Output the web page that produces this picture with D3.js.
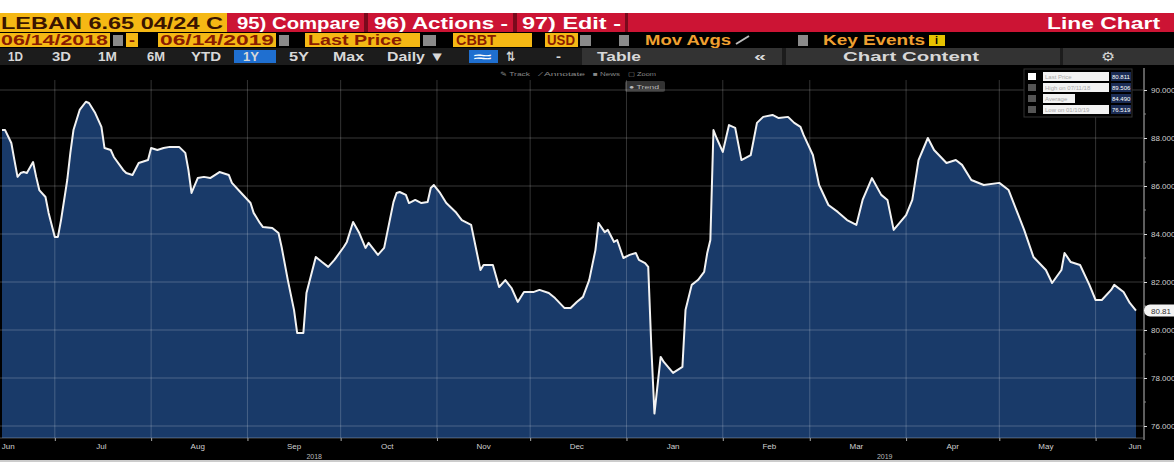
<!DOCTYPE html>
<html><head><meta charset="utf-8">
<script src="https://cdn.jsdelivr.net/npm/d3@7"></script>
<style>html,body{margin:0;padding:0;background:#000;overflow:hidden}text{font-family:"Liberation Sans","DejaVu Sans",sans-serif}</style>
</head><body><svg id="c" width="1174" height="462"></svg>
<script>
const dates = ["2018-06-14","2018-06-15","2018-06-17","2018-06-18","2018-06-19","2018-06-20","2018-06-21","2018-06-22","2018-06-24","2018-06-25","2018-06-26","2018-06-28","2018-06-29","2018-07-01","2018-07-02","2018-07-03","2018-07-05","2018-07-06","2018-07-07","2018-07-09","2018-07-11","2018-07-12","2018-07-14","2018-07-16","2018-07-17","2018-07-19","2018-07-20","2018-07-23","2018-07-24","2018-07-26","2018-07-28","2018-07-31","2018-08-01","2018-08-03","2018-08-05","2018-08-07","2018-08-10","2018-08-12","2018-08-13","2018-08-14","2018-08-16","2018-08-18","2018-08-20","2018-08-23","2018-08-26","2018-08-27","2018-08-30","2018-09-02","2018-09-03","2018-09-05","2018-09-06","2018-09-09","2018-09-11","2018-09-12","2018-09-14","2018-09-16","2018-09-17","2018-09-19","2018-09-20","2018-09-23","2018-09-25","2018-09-27","2018-09-29","2018-10-02","2018-10-03","2018-10-05","2018-10-07","2018-10-09","2018-10-10","2018-10-13","2018-10-15","2018-10-18","2018-10-19","2018-10-20","2018-10-22","2018-10-23","2018-10-25","2018-10-27","2018-10-29","2018-10-30","2018-10-31","2018-11-02","2018-11-04","2018-11-07","2018-11-09","2018-11-12","2018-11-15","2018-11-16","2018-11-19","2018-11-21","2018-11-23","2018-11-25","2018-11-27","2018-11-29","2018-12-02","2018-12-04","2018-12-07","2018-12-09","2018-12-12","2018-12-14","2018-12-16","2018-12-18","2018-12-20","2018-12-22","2018-12-23","2018-12-25","2018-12-26","2018-12-28","2018-12-29","2018-12-31","2019-01-02","2019-01-04","2019-01-05","2019-01-07","2019-01-08","2019-01-09","2019-01-10","2019-01-12","2019-01-13","2019-01-16","2019-01-19","2019-01-20","2019-01-22","2019-01-24","2019-01-26","2019-01-27","2019-01-28","2019-01-29","2019-01-30","2019-02-01","2019-02-03","2019-02-05","2019-02-07","2019-02-10","2019-02-12","2019-02-14","2019-02-17","2019-02-19","2019-02-22","2019-02-24","2019-02-26","2019-02-27","2019-03-02","2019-03-04","2019-03-07","2019-03-10","2019-03-13","2019-03-16","2019-03-18","2019-03-21","2019-03-24","2019-03-26","2019-03-28","2019-04-01","2019-04-03","2019-04-05","2019-04-08","2019-04-10","2019-04-14","2019-04-17","2019-04-19","2019-04-22","2019-04-26","2019-05-01","2019-05-04","2019-05-09","2019-05-12","2019-05-16","2019-05-18","2019-05-21","2019-05-22","2019-05-24","2019-05-27","2019-05-30","2019-06-01","2019-06-03","2019-06-06","2019-06-07","2019-06-10","2019-06-12","2019-06-14"];
const prices = [88.33,88.33,87.79,87.08,86.38,86.54,86.58,86.54,87.00,86.38,85.83,85.54,84.88,83.88,83.88,84.58,86.25,87.38,88.33,89.17,89.51,89.46,89.04,88.46,87.58,87.50,87.21,86.67,86.54,86.46,86.96,87.08,87.58,87.50,87.58,87.63,87.63,87.38,86.67,85.71,86.33,86.38,86.33,86.58,86.46,86.13,85.71,85.29,84.88,84.46,84.29,84.25,84.04,83.46,82.08,80.83,79.88,79.88,81.54,83.04,82.83,82.63,82.92,83.46,83.67,84.50,84.04,83.42,83.63,83.13,83.42,85.33,85.71,85.75,85.63,85.29,85.42,85.29,85.33,85.92,86.04,85.71,85.29,84.92,84.58,84.38,82.50,82.71,82.71,81.79,82.08,81.75,81.17,81.58,81.58,81.67,81.54,81.33,80.92,80.92,81.17,81.38,82.08,83.33,84.46,84.08,84.17,83.67,83.75,83.00,83.13,83.21,82.92,82.79,82.63,79.29,76.52,78.88,78.67,78.21,78.46,80.83,81.88,82.08,82.42,83.21,83.75,88.33,88.00,87.42,88.54,88.42,87.08,87.29,88.63,88.88,88.96,88.83,88.88,88.63,88.46,88.13,87.29,86.04,85.21,84.92,84.58,84.38,85.42,86.33,85.63,85.42,84.17,84.79,85.42,87.08,88.00,87.50,86.96,87.08,86.88,86.25,86.04,86.13,85.83,84.17,83.04,82.50,81.96,82.50,83.21,82.83,82.71,81.88,81.25,81.25,81.67,81.88,81.58,81.13,80.81];
const yTicks = [76,78,80,82,84,86,88,90];
const monthNames = ["Jun","Jul","Aug","Sep","Oct","Nov","Dec","Jan","Feb","Mar","Apr","May","Jun"];
const yearLabels = ["2018","2019"];
const legendLabels = ["Last Price","High on 07/11/18","Average","Low on 01/10/19"];
const legendValues = ["80.811","89.506","84.490","76.519"];

const W=1174,H=462;
const svg=d3.select("#c");
const parse=d3.timeParse("%Y-%m-%d");
const data=dates.map((d,i)=>({d:parse(d),v:prices[i]}));
const start=parse("2018-06-14"), end=parse("2019-06-14");
const plotL=0, plotR=1143, plotT=66, plotB=438;
const x=d3.scaleTime().domain([start,end]).range([2,1136]);
const y=d3.scaleLinear().domain([76,90]).range([426,90]);

svg.append("rect").attr("width",W).attr("height",H).attr("fill","#000");

// ---------- header ----------
const AMB="#f5b814", RED="#cc1434";
svg.append("rect").attr("x",0).attr("y",0).attr("width",W).attr("height",13).attr("fill","#fff");
// row1
svg.append("rect").attr("x",0).attr("y",13).attr("width",W).attr("height",19).attr("fill",RED);
svg.append("rect").attr("x",0).attr("y",13).attr("width",227).attr("height",19).attr("fill",AMB);
[[364,4],[513,4],[625,3]].forEach(s=>svg.append("rect").attr("x",s[0]).attr("y",13).attr("width",s[1]).attr("height",19).attr("fill","#7a0a1c"));
function txt(t,x0,yb,len,size,fill,weight){
  return svg.append("text").attr("x",x0).attr("y",yb).attr("font-size",size).attr("fill",fill)
   .attr("font-weight",weight||"normal").attr("textLength",len).attr("lengthAdjust","spacingAndGlyphs").text(t);
}
txt("LEBAN 6.65 04/24 C",1,29,222,17,"#3a1400","bold");
txt("95) Compare",237,29,123,17,"#fff","bold");
txt("96) Actions -",374,29,134,17,"#fff","bold");
txt("97) Edit -",522,29,99,17,"#fff","bold");
txt("Line Chart",1047,29,113,17,"#fff","bold");
// row2
const r2y=33,r2h=14;
function abox(x0,w){svg.append("rect").attr("x",x0).attr("y",r2y).attr("width",w).attr("height",r2h).attr("fill",AMB);}
function gbox(x0,w){svg.append("rect").attr("x",x0).attr("y",r2y+2).attr("width",w).attr("height",r2h-3).attr("fill","#8a8a8a");}
abox(0,110); txt("06/14/2018",1,45,107,14,"#8a1c00","bold");
gbox(113,10);
abox(126,12); txt("-",129,45,6,14,"#8a1c00","bold");
abox(158,118); txt("06/14/2019",160,45,114,14,"#8a1c00","bold");
gbox(279,10);
abox(305,115); txt("Last Price",308,45,94,14,"#8a1c00","bold");
gbox(423,13);
abox(453,79); txt("CBBT",456,45,40,14,"#8a1c00","bold");
abox(545,33); txt("USD",547,45,28,14,"#8a1c00","bold");
gbox(580,11);
gbox(619,10); txt("Mov Avgs",645,45,86,14,"#f0a030","bold");
svg.append("line").attr("x1",736).attr("y1",44).attr("x2",749).attr("y2",36).attr("stroke","#bbb").attr("stroke-width",2);
gbox(798,10); txt("Key Events",823,45,102,14,"#f0a030","bold");
svg.append("rect").attr("x",929).attr("y",35).attr("width",16).attr("height",11).attr("fill","#e6c200");
txt("i",935,44,3,10,"#000","bold");
// row3
svg.append("rect").attr("x",0).attr("y",48).attr("width",W).attr("height",17).attr("fill","#1c1c1c");
svg.append("rect").attr("x",582).attr("y",48).attr("width",200).attr("height",17).attr("fill","#333");
svg.append("rect").attr("x",786).attr("y",48).attr("width",274).attr("height",17).attr("fill","#333");
svg.append("rect").attr("x",1063).attr("y",48).attr("width",111).attr("height",17).attr("fill","#333");
svg.append("rect").attr("x",234).attr("y",50).attr("width",42).attr("height",13).attr("fill","#1f6fd0");
svg.append("rect").attr("x",469).attr("y",50).attr("width",29).attr("height",13).attr("fill","#1f6fd0");
[["1D",8,15],["3D",52,19],["1M",98,19],["6M",147,18],["YTD",191,30],["1Y",243,16],["5Y",289,20],["Max",333,31],["Daily \u25BC",387,58],["\u21C5",506,9],["-",556,5],["Table",597,44],["\u00AB",754,12],["Chart Content",843,136],["\u2699",1101,14]]
 .forEach(a=>txt(a[0],a[1],61,a[2],13,"#d8d8d8","bold"));
txt("\u2248",474,61,18,12,"#fff","bold");
// row4 small tools
[["\u270E Track",500,30],["\u2215 Annotate",540,45],["\u25A0 News",593,27],["\u25A2 Zoom",628,28]].forEach(a=>txt(a[0],a[1],76,a[2],6,"#888"));
svg.append("rect").attr("x",625).attr("y",81).attr("width",40).attr("height",11).attr("rx",2).attr("fill","#333");
txt("\u25CF Trend",629,89,30,6,"#bbb");

// ---------- grid ----------
const g=svg.append("g");
const area=d3.area().x(d=>x(d.d)).y0(plotB).y1(d=>y(d.v)).curve(d3.curveLinear);
const line=d3.line().x(d=>x(d.d)).y(d=>y(d.v));
g.append("path").datum(data).attr("d",area).attr("fill","#193a69");
const monthStarts=d3.timeMonth.range(d3.timeMonth.ceil(start),end);
g.selectAll(".vg").data(monthStarts).join("line").attr("x1",d=>x(d)).attr("x2",d=>x(d))
  .attr("y1",plotT+14).attr("y2",plotB).attr("stroke","rgba(255,255,255,0.2)").attr("stroke-width",1);
g.selectAll(".hg").data(yTicks).join("line").attr("x1",plotL).attr("x2",plotR)
  .attr("y1",d=>y(d)).attr("y2",d=>y(d)).attr("stroke","rgba(255,255,255,0.22)").attr("stroke-width",1);
g.append("line").attr("x1",0).attr("x2",plotR).attr("y1",plotB).attr("y2",plotB).attr("stroke","rgba(255,255,255,0.3)");
g.append("path").datum(data).attr("d",line).attr("fill","none").attr("stroke","#f2f2f2").attr("stroke-width",2).attr("stroke-linejoin","round");

// ---------- y axis ----------
const ya=svg.append("g").attr("transform",`translate(${plotR+1},0)`)
  .call(d3.axisRight(y).tickValues(yTicks).tickSize(3).tickPadding(4).tickFormat(d3.format(".3f")));
ya.select(".domain").attr("stroke","#bbb").attr("d",`M0,${plotT+2}V${plotB+2}`);
ya.selectAll(".tick line").attr("stroke","#ddd");
ya.selectAll(".tick text").attr("fill","#cfcfcf").attr("font-size",8).attr("font-family","Liberation Sans, sans-serif");
const minor=d3.range(77,90,2);
svg.append("g").attr("transform",`translate(${plotR+1},0)`).selectAll("line").data(minor).join("line")
  .attr("x1",0).attr("x2",2).attr("y1",d=>y(d)).attr("y2",d=>y(d)).attr("stroke","#888");

// last price tag
const last=data[data.length-1];
svg.append("rect").attr("x",plotR+1).attr("y",y(last.v)-6).attr("width",40).attr("height",12).attr("rx",6).attr("fill","#f4f4f4");
svg.append("text").attr("x",plotR+8).attr("y",y(last.v)+3).attr("font-size",8).attr("fill","#333").text(last.v.toFixed(2));

// ---------- x axis ----------
const xa=svg.append("g").attr("transform",`translate(0,${plotB})`)
  .call(d3.axisBottom(x).tickValues(monthStarts).tickSize(3).tickFormat(""));
xa.select(".domain").remove();
xa.selectAll(".tick line").attr("stroke","#aaa");
const labelDates=monthNames.map((m,i)=>d3.timeDay.offset(d3.timeMonth.offset(d3.timeMonth.floor(start),i),15));
svg.selectAll(".ml").data(labelDates).join("text").attr("x",(d)=>Math.min(x(d),1135)).attr("y",449)
  .attr("text-anchor","middle").attr("font-size",8).attr("fill","#d0d0d0").text((d,i)=>monthNames[i]);
const y19=parse("2019-01-01");
const yearPos=[(x(start)+x(y19))/2,(x(y19)+plotR)/2];
svg.selectAll(".yl").data(yearLabels).join("text").attr("x",(d,i)=>yearPos[i]).attr("y",459)
  .attr("text-anchor","middle").attr("font-size",7).attr("fill","#bbb").text(d=>d);
svg.append("rect").attr("x",0).attr("y",460).attr("width",W).attr("height",2).attr("fill","#ccc");

// ---------- legend ----------
const lg=svg.append("g").attr("transform","translate(1028,71)");
lg.append("rect").attr("x",-4).attr("y",-2).attr("width",108).attr("height",48).attr("fill","#000").attr("stroke","#333");
legendLabels.forEach((l,i)=>{
  const yy=i*11;
  lg.append("rect").attr("x",0).attr("y",yy+2).attr("width",8).attr("height",7).attr("fill",i==0?"#fff":"#555");
  lg.append("rect").attr("x",15).attr("y",yy+1).attr("width",66).attr("height",9).attr("fill","#f2f2f2");
  if(i==2) lg.append("rect").attr("x",47).attr("y",yy+1).attr("width",34).attr("height",9).attr("fill","#000");
  lg.append("text").attr("x",17).attr("y",yy+8).attr("font-size",6).attr("fill","#aaa").text(l);
  lg.append("rect").attr("x",83).attr("y",yy+1).attr("width",20).attr("height",9).attr("fill","#1b2c55");
  lg.append("text").attr("x",84).attr("y",yy+8).attr("font-size",6).attr("fill","#fff").text(legendValues[i]);
});
</script></body></html>
